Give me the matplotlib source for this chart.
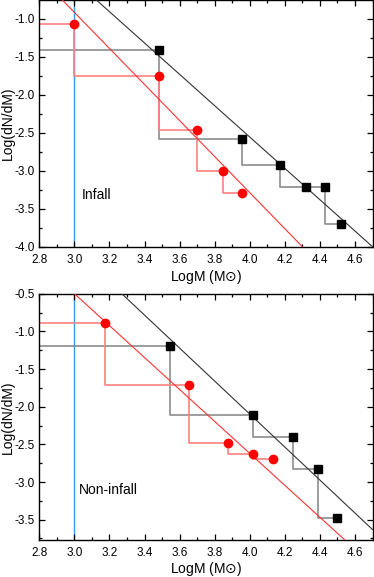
import matplotlib
matplotlib.use("Agg")
import matplotlib.pyplot as plt
import numpy as np
from matplotlib.ticker import MultipleLocator

plt.rcParams['font.family'] = ['Liberation Sans', 'DejaVu Sans']
plt.rcParams['mathtext.fontset'] = 'dejavusans'

# ---- Data: Infall panel ----
infall_black_x = [3.48, 3.955, 4.175, 4.32, 4.43, 4.52]
infall_black_y = [-1.42, -2.59, -2.92, -3.22, -3.22, -3.70]
infall_red_x = [3.00, 3.48, 3.70, 3.845, 3.955]
infall_red_y = [-1.07, -1.76, -2.46, -3.00, -3.30]
infall_black_fit = [-2.06, 5.682]   # slope, intercept
infall_red_fit = [-2.37, 6.191]

# ---- Data: Non-infall panel ----
noninf_black_x = [3.545, 4.02, 4.245, 4.39, 4.50]
noninf_black_y = [-1.20, -2.11, -2.40, -2.83, -3.48]
noninf_red_x = [3.175, 3.655, 3.875, 4.02, 4.13]
noninf_red_y = [-0.89, -1.71, -2.48, -2.63, -2.70]
noninf_black_fit = [-2.19, 6.662]
noninf_red_fit = [-2.12, 5.86]

cut_x = 3.0
x_start = 2.8
xlim = (2.8, 4.7)
xticks = [2.8, 3.0, 3.2, 3.4, 3.6, 3.8, 4.0, 4.2, 4.4, 4.6]
labels = ["Infall", "Non-infall"]

fig = plt.figure(figsize=(3.74, 5.77), dpi=100)
W, H = 374, 577
L, R = 39.3, 372.5
ax1 = fig.add_axes([L / W, 1 - 246.7 / H, (R - L) / W, (246.7 + 0.5) / H])
ax2 = fig.add_axes([L / W, 1 - 540 / H, (R - L) / W, (540 - 293.7) / H])

panels = [
    (ax1, infall_black_x, infall_black_y, infall_red_x, infall_red_y,
     infall_black_fit, infall_red_fit, (-4.0, -0.75), [-4.0, -3.5, -3.0, -2.5, -2.0, -1.5, -1.0],
     labels[0], (3.041, -3.32), 247.2, 34.5),
    (ax2, noninf_black_x, noninf_black_y, noninf_red_x, noninf_red_y,
     noninf_black_fit, noninf_red_fit, (-3.77, -0.5), [-3.5, -3.0, -2.5, -2.0, -1.5, -1.0, -0.5],
     labels[1], (3.026, -3.10), 246.3, 32.5),
]

for ax, bx, by, rx, ry, bfit, rfit, ylim, yticks, lab, lpos, hpx, xoff in panels:
    # step lines
    sbx = [x_start] + bx
    sby = [by[0]] + by
    ax.plot(sbx, sby, drawstyle='steps-pre', color='#8c8c8c', lw=1.2, zorder=2)
    srx = [x_start] + rx
    sry = [ry[0]] + ry
    ax.plot(srx, sry, drawstyle='steps-pre', color='#ff8080', lw=1.2, zorder=2)
    # fit lines
    xx = np.array(xlim)
    ax.plot(xx, bfit[0] * xx + bfit[1], color='#333333', lw=0.8, zorder=3)
    ax.plot(xx, rfit[0] * xx + rfit[1], color='#ff3333', lw=0.8, zorder=3)
    # cut line
    ax.axvline(cut_x, color='#3399ff', lw=1.0, zorder=1)
    # markers
    ax.plot(bx, by, ls='none', marker='s', ms=5.5, color='black', zorder=4)
    ax.plot(rx, ry, ls='none', marker='o', ms=6, color='#ff0000', mec='#ff0000', zorder=4)

    ax.set_xlim(*xlim)
    ax.set_ylim(*ylim)
    ax.set_xticks(xticks)
    ax.set_xticklabels([f"{t:.1f}" for t in xticks])
    ax.set_yticks(yticks)
    ax.set_yticklabels([f"{t:.1f}" for t in yticks])
    ax.xaxis.set_minor_locator(MultipleLocator(0.1))
    ax.yaxis.set_minor_locator(MultipleLocator(0.25))
    ax.tick_params(which='both', direction='in', top=True, right=True, labelsize=8.5)
    ax.tick_params(axis='x', pad=5)
    ax.tick_params(axis='y', pad=3)
    ax.tick_params(which='major', length=4, width=0.9)
    ax.tick_params(which='minor', length=2.5, width=0.9)
    for s in ax.spines.values():
        s.set_linewidth(1.0)
    ax.set_xlabel(r'LogM (M$\odot$)', fontsize=10, va='baseline')
    ax.xaxis.set_label_coords(0.5, -xoff / hpx)
    ax.set_ylabel('Log(dN/dM)', fontsize=10, va='center')
    ax.yaxis.set_label_coords((8 - L) / (R - L), 0.5)
    ax.text(lpos[0], lpos[1], lab, fontsize=10, va='center', ha='left')

fig.savefig('out.png', dpi=100)
